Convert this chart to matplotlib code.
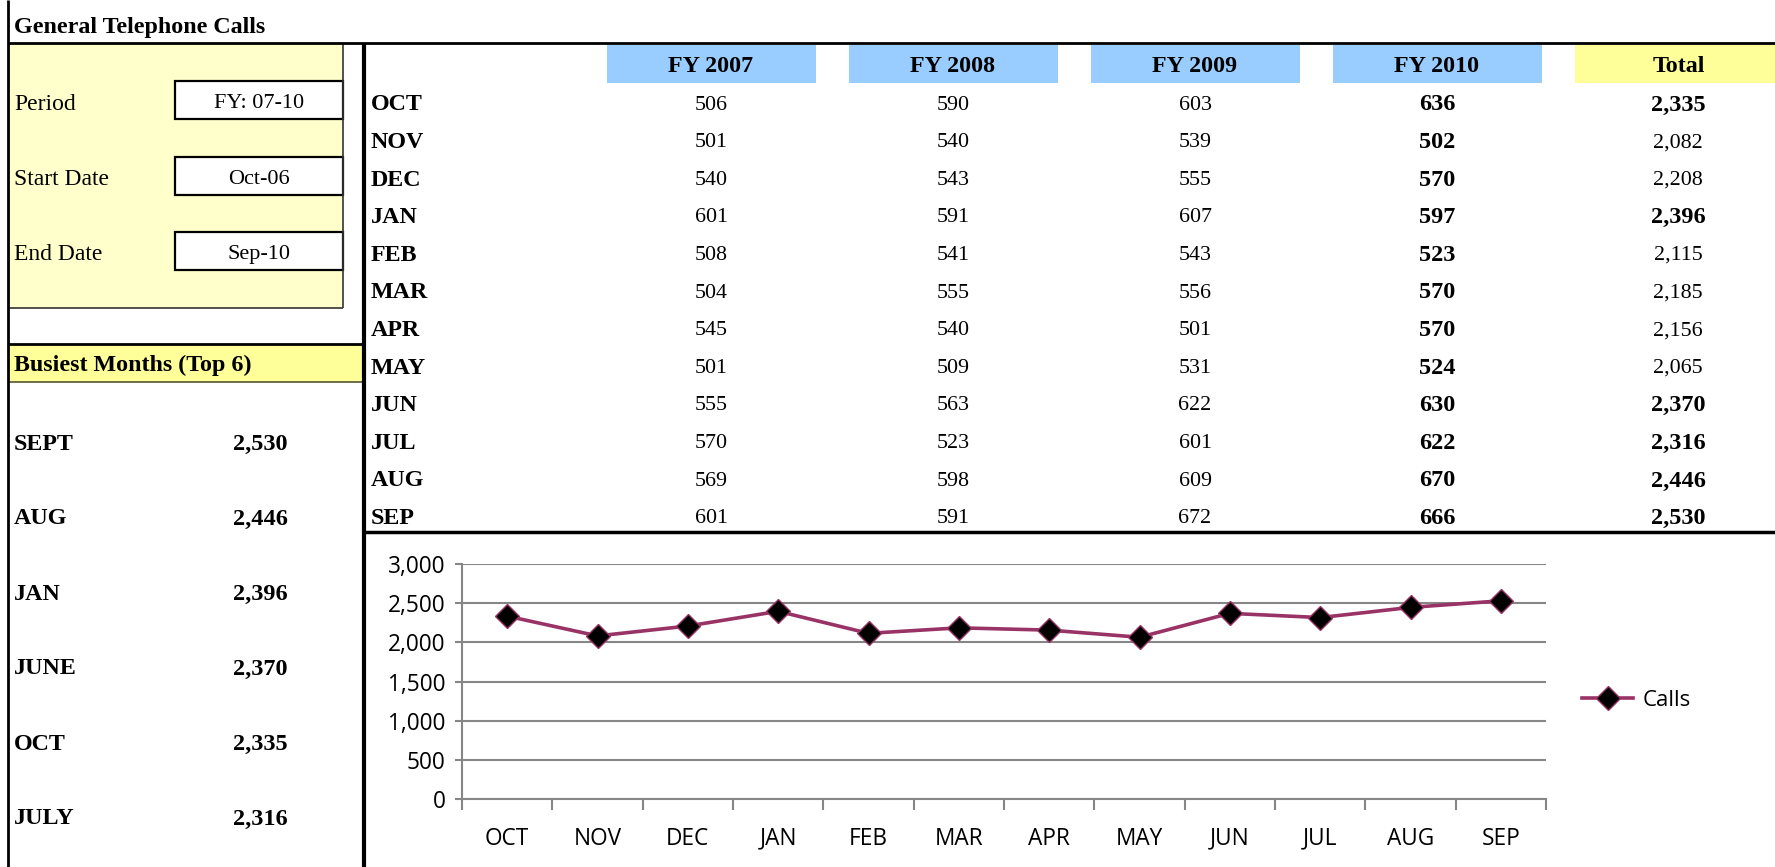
import matplotlib.pyplot as plt
from matplotlib.patches import Rectangle
from matplotlib.ticker import FuncFormatter
import numpy as np

# table data
months = ['OCT', 'NOV', 'DEC', 'JAN', 'FEB', 'MAR', 'APR', 'MAY', 'JUN', 'JUL', 'AUG', 'SEP']
fy_labels = ['FY 2007', 'FY 2008', 'FY 2009', 'FY 2010']
fy2007 = [506, 501, 540, 601, 508, 504, 545, 501, 555, 570, 569, 601]
fy2008 = [590, 540, 543, 591, 541, 555, 540, 509, 563, 523, 598, 591]
fy2009 = [603, 539, 555, 607, 543, 556, 501, 531, 622, 601, 609, 672]
fy2010 = [636, 502, 570, 597, 523, 570, 570, 524, 630, 622, 670, 666]
totals = [a + b + c + d for a, b, c, d in zip(fy2007, fy2008, fy2009, fy2010)]

# side panel
period_labels = ['Period', 'Start Date', 'End Date']
period_values = ['FY: 07-10', 'Oct-06', 'Sep-10']
busiest_labels = ['SEPT', 'AUG', 'JAN', 'JUNE', 'OCT', 'JULY']
busiest_values = [2530, 2446, 2396, 2370, 2335, 2316]

SERIF = 'Liberation Serif'
SANS = 'Open Sans'
W, H = 1775, 867
BOLD_TXT = 17.3    # bold labels
BOLD_NUM = 17.5    # bold figures
REG_NUM = 15.8     # plain figures

fig = plt.figure(figsize=(W / 100, H / 100), dpi=100)
bg = fig.add_axes([0, 0, 1, 1])
bg.set_xlim(0, W)
bg.set_ylim(H, 0)
bg.axis('off')


def hline(y, x0, x1, lw=2, color='black'):
    bg.plot([x0, x1], [y, y], color=color, lw=lw, solid_capstyle='butt')


def vline(x, y0, y1, lw=2, color='black'):
    bg.plot([x, x], [y0, y1], color=color, lw=lw, solid_capstyle='butt')


def txt(x, y, s, size, bold=False, ha='left'):
    # small offset so the glyphs sit centred in the row like in the sheet
    bg.text(x, y + 3, s, family=SERIF, fontsize=size,
            fontweight='bold' if bold else 'normal', va='center', ha=ha)


# yellow info block
bg.add_patch(Rectangle((8, 43), 335, 265, facecolor='#FFFFCC', edgecolor='none'))
vline(343, 43, 308, lw=1.2, color='#333333')
hline(308, 8, 343, lw=1.2, color='#333333')
for i, (lab, val) in enumerate(zip(period_labels, period_values)):
    y0 = 81 + i * 75.5
    bg.add_patch(Rectangle((175, y0), 168, 38, facecolor='white', edgecolor='black', lw=1.6))
    txt(14, y0 + 20, lab, 17)
    txt(259, y0 + 20, val, 16, ha='center')

# busiest months band
bg.add_patch(Rectangle((8, 344), 356, 38, facecolor='#FFFF99', edgecolor='none'))
hline(344, 8, 364, lw=2)
hline(382, 8, 364, lw=1.2, color='#555533')
txt(14, 362, 'Busiest Months (Top 6)', BOLD_TXT, bold=True)
for i, (lab, val) in enumerate(zip(busiest_labels, busiest_values)):
    y = 441 + i * 75
    txt(14, y, lab, BOLD_TXT, bold=True)
    txt(260, y, f'{val:,}', BOLD_NUM, bold=True, ha='center')

# frame lines
vline(8, 0, H, lw=2)
hline(43, 8, W, lw=2)
vline(364, 43, H, lw=3)
hline(532, 364, W, lw=2.5)
txt(14, 25, 'General Telephone Calls', BOLD_TXT, bold=True)

# table header
col_x = [711, 953, 1195, 1437]
for x, lab in zip(col_x, fy_labels):
    bg.add_patch(Rectangle((x - 104, 45), 209, 38, facecolor='#99CCFF', edgecolor='none'))
    txt(x, 63, lab, BOLD_TXT, bold=True, ha='center')
bg.add_patch(Rectangle((1575, 45), 200, 38, facecolor='#FFFF99', edgecolor='none'))
txt(1679, 63, 'Total', BOLD_TXT, bold=True, ha='center')

# table body
for i, m in enumerate(months):
    y = 102 + i * 37.6
    txt(371, y, m, BOLD_TXT, bold=True)
    for x, vals in zip(col_x[:3], [fy2007, fy2008, fy2009]):
        txt(x, y, str(vals[i]), REG_NUM, ha='center')
    txt(col_x[3], y, str(fy2010[i]), BOLD_NUM, bold=True, ha='center')
    top6 = totals[i] in busiest_values
    txt(1678, y, f'{totals[i]:,}', BOLD_NUM if top6 else REG_NUM, bold=top6, ha='center')

# line chart
ax = fig.add_axes([462 / W, 1 - 799 / H, (1546 - 462) / W, (799 - 564) / H])
x = np.arange(len(months))
ax.plot(x, totals, color='#993366', lw=2.6, marker='D', markersize=12.5,
        markerfacecolor='black', markeredgecolor='#993366', markeredgewidth=1, label='Calls',
        zorder=3)
ax.set_xlim(-0.5, len(months) - 0.5)
ax.set_ylim(0, 3000)
ax.set_yticks(range(0, 3001, 500))
ax.yaxis.set_major_formatter(FuncFormatter(lambda v, p: f'{int(v):,}'))
ax.set_xticks(np.arange(-0.5, len(months), 1))
ax.set_xticklabels([])
ax.set_xticks(x, minor=True)
ax.set_xticklabels(months, minor=True)
ax.tick_params(axis='x', which='major', length=8, color='#868686', width=1.5)
ax.tick_params(axis='x', which='minor', length=0, pad=20, labelsize=16.3)
ax.tick_params(axis='y', length=5, color='#868686', width=1.5, labelsize=16.3, pad=7)
for lab in ax.get_xticklabels(minor=True) + ax.get_yticklabels():
    lab.set_family(SANS)
ax.grid(axis='y', color='#868686', lw=1.5)
ax.set_axisbelow(True)
for s in ['top', 'right']:
    ax.spines[s].set_visible(False)
for s in ['left', 'bottom']:
    ax.spines[s].set_color('#868686')
    ax.spines[s].set_linewidth(1.5)
ax.set_facecolor('none')

leg = ax.legend(loc='center left', bbox_to_anchor=(1582 / W, 1 - 700 / H),
                bbox_transform=fig.transFigure, frameon=False, borderpad=0,
                borderaxespad=0, handlelength=2.3, handletextpad=0.45,
                prop={'family': SANS, 'size': 16})

fig.savefig('out.png', dpi=100)
